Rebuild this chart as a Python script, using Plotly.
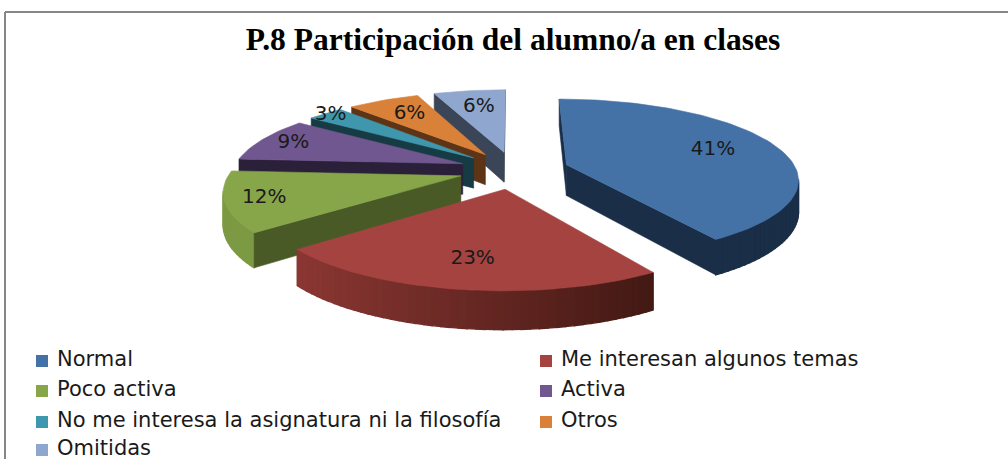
import math
import plotly.graph_objects as go

categories = ["Normal", "Me interesan algunos temas", "Poco activa", "Activa",
              "No me interesa la asignatura ni la filosofía", "Otros", "Omitidas"]
values = [41, 23, 12, 9, 3, 6, 6]
title = "P.8 Participación del alumno/a en clases"

top_colors = ["#4472A6", "#A54340", "#87A64A", "#70578F", "#3F97AE", "#D98139", "#8FA7CE"]
cut_colors = ["#1A2E47", "#431914", "#4A5A27", "#2B2039", "#163B45", "#5D3516", "#3A4557"]
arc_left = ["#1A2E47", "#8C3733", "#7C9A43", "#2B2039", "#163B45", "#5D3516", "#3A4557"]
arc_right = ["#1A2E47", "#431914", "#5E7633", "#2B2039", "#163B45", "#5D3516", "#3A4557"]
draw_order = [6, 5, 4, 3, 2, 0, 1]

CX, CY, RX, RY, PERSP, EXPLODE, DEPTH = 514, 170, 230, 78, 0.163, 0.24, 31
label_r = [0.70, 0.73, 0.84, 0.84, 0.96, 0.72, 0.70]


def proj(u, v, down=0.0):
    d = 1 - PERSP * v
    return CX + RX * u / d, CY + (RY * v + DEPTH * down) / d


def hexmix(a, b, t):
    ca = [int(a[i:i + 2], 16) for i in (1, 3, 5)]
    cb = [int(b[i:i + 2], 16) for i in (1, 3, 5)]
    return "#%02x%02x%02x" % tuple(round(p + (q - p) * t) for p, q in zip(ca, cb))


def poly(fig, pts, color, name, lw=0.6):
    fig.add_trace(go.Scatter(x=[p[0] for p in pts] + [pts[0][0]],
                             y=[p[1] for p in pts] + [pts[0][1]],
                             mode="lines", fill="toself", fillcolor=color,
                             line=dict(color=color, width=lw),
                             name=name, showlegend=False, hoverinfo="name"))


total = sum(values)
starts, s = [], 0.0
for val in values:
    starts.append(s)
    s += val
fig = go.Figure()
label_x, label_y, label_t = [None] * 7, [None] * 7, [None] * 7

for i in draw_order:
    a0 = starts[i] / total * 2 * math.pi
    a1 = (starts[i] + values[i]) / total * 2 * math.pi
    mid = (a0 + a1) / 2
    ox, oy = EXPLODE * math.sin(mid), -EXPLODE * math.cos(mid)
    n = max(4, int(values[i] * 2))
    arc = [(ox + math.sin(a0 + (a1 - a0) * k / n), oy - math.cos(a0 + (a1 - a0) * k / n))
           for k in range(n + 1)]
    apex = (ox, oy)

    # outer wall
    for k in range(n):
        a, b = proj(*arc[k]), proj(*arc[k + 1])
        if b[0] < a[0]:
            xm = (a[0] + b[0]) / 2
            t = min(1, max(0, (xm - 290) / 360))
            poly(fig, [a, b, proj(*arc[k + 1], 1), proj(*arc[k], 1)],
                 hexmix(arc_left[i], arc_right[i], t), categories[i], lw=1.4)
    # cut faces, only those turned to the viewer
    for p, q in ((apex, arc[0]), (arc[-1], apex)):
        a, b = proj(*p), proj(*q)
        if b[0] < a[0]:
            poly(fig, [a, b, proj(*q, 1), proj(*p, 1)], cut_colors[i], categories[i])
    # top face
    poly(fig, [proj(*apex)] + [proj(*p) for p in arc], top_colors[i], categories[i])

    lx, ly = proj(ox + label_r[i] * math.sin(mid), oy - label_r[i] * math.cos(mid))
    label_x[i], label_y[i], label_t[i] = lx, ly, f"{values[i]}%"

fig.add_trace(go.Scatter(x=label_x, y=label_y, text=label_t, mode="text",
                         textposition="middle center", showlegend=False, hoverinfo="skip",
                         textfont=dict(family="DejaVu Sans", size=20, color="#1a1a1a")))

# legend, laid out row by row in two columns
leg_col = [42, 546]
leg_row = [361, 391, 422, 450]
mx = [leg_col[k % 2] for k in range(7)]
my = [leg_row[k // 2] for k in range(7)]
fig.add_trace(go.Scatter(x=mx, y=my, mode="markers", showlegend=False, hoverinfo="skip",
                         marker=dict(symbol="square", size=12, color=top_colors)))
fig.add_trace(go.Scatter(x=[v + 15 for v in mx], y=my, mode="text", text=categories,
                         textposition="middle right", showlegend=False, hoverinfo="skip",
                         textfont=dict(family="DejaVu Sans", size=21, color="#1a1a1a")))

fig.add_trace(go.Scatter(x=[513], y=[42], mode="text", text=[f"<b>{title}</b>"],
                         textposition="middle center", showlegend=False, hoverinfo="skip",
                         textfont=dict(family="Liberation Serif", size=31.5, color="#000000")))

border = dict(color="#868686", width=2)
fig.update_layout(
    width=1008, height=459, autosize=False,
    margin=dict(l=0, r=0, t=0, b=0),
    paper_bgcolor="white", plot_bgcolor="white",
    xaxis=dict(range=[0, 1008], visible=False, fixedrange=True),
    yaxis=dict(range=[459, 0], visible=False, fixedrange=True),
    shapes=[dict(type="line", x0=5, x1=5, y0=12, y1=459, line=border),
            dict(type="line", x0=5, x1=1008, y0=12, y1=12, line=border)],
)
fig.write_html("out.html", config={"displayModeBar": False},
               post_script="document.body.style.margin='0';document.body.style.overflow='hidden';")
